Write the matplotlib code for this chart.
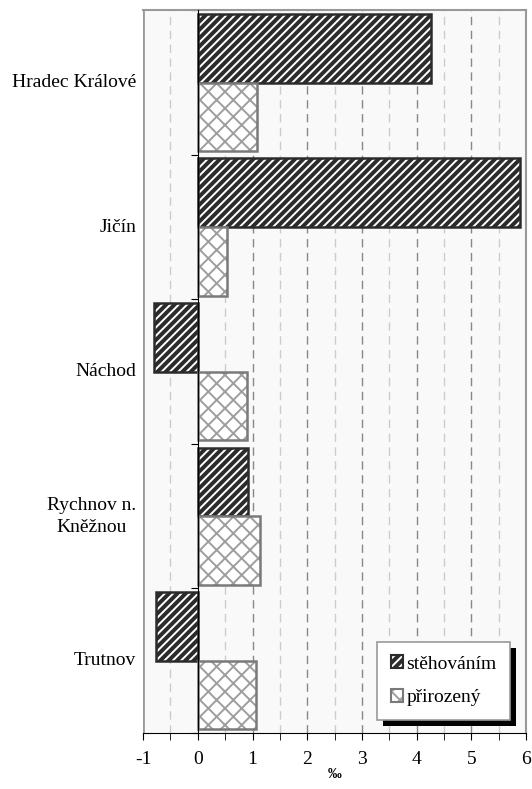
import numpy as np
import matplotlib.pyplot as plt
from matplotlib.patches import Patch, Rectangle
from matplotlib.transforms import blended_transform_factory

plt.rcParams['font.family'] = ['Liberation Serif', 'DejaVu Serif']
plt.rcParams['hatch.linewidth'] = 1.4

okresy = ['Hradec Králové', 'Jičín', 'Náchod', 'Rychnov n.\nKněžnou', 'Trutnov']
stehovanim = [4.27, 5.88, -0.80, 0.92, -0.76]
prirozeny = [1.09, 0.53, 0.90, 1.14, 1.06]
xticks = [-1, 0, 1, 2, 3, 4, 5, 6]

fig = plt.figure(figsize=(5.32, 7.89), dpi=100)
ax = fig.add_axes([0.269, 0.071, 0.720, 0.916])
ax.set_facecolor('#f9f9f9')

n = len(okresy)
y = np.arange(n)
h = 0.475

WHITE = (1.0, 1.0, 1.0, 1.0)
GRAY = (0.62, 0.62, 0.62, 1.0)

b1 = ax.barh(y - h / 2, stehovanim, height=h, color='#2b2b2b', edgecolor='#2b2b2b',
             hatch='////', linewidth=1.8, zorder=3)
b2 = ax.barh(y + h / 2, prirozeny, height=h, color='white', edgecolor='#7a7a7a',
             hatch='xx', linewidth=1.8, zorder=3)
for p in b1:
    p._hatch_color = WHITE
for p in b2:
    p._hatch_color = GRAY

ax.set_ylim(n - 0.5, -0.5)
ax.set_xlim(-1, 6)

# mrizka
for g in np.arange(-0.5, 6, 0.5):
    if g == 0:
        continue
    c = '#888888' if g == int(g) else '#cccccc'
    ax.axvline(g, color=c, lw=1, ls=(0, (6, 4)), zorder=1)

ax.spines['left'].set_position(('data', 0))
ax.spines['left'].set_zorder(4)
ax.spines['left'].set_color('black')
for s in ['top', 'right']:
    ax.spines[s].set_color('#999999')
    ax.spines[s].set_linewidth(1.5)
ax.axvline(-1, color='#999999', lw=2, zorder=2)
ax.spines['bottom'].set_color('black')

ax.set_yticks(np.arange(-0.5, n - 0.4, 1))
ax.set_yticklabels([])
ax.tick_params(axis='y', length=5, direction='out')

ax.set_xticks(xticks)
ax.set_xticks(np.arange(-0.5, 6, 1), minor=True)
ax.set_xticklabels([str(t) for t in xticks], fontsize=14)
ax.tick_params(axis='x', which='both', length=5, direction='out', pad=8)
ax.set_xlabel('‰', fontsize=10, fontweight='bold', labelpad=0)

tr = blended_transform_factory(ax.transAxes, ax.transData)
for i, name in enumerate(okresy):
    ax.text(-0.018, i, name, transform=tr, ha='right', va='center',
            multialignment='center', fontsize=14, linespacing=1.4)

h1 = Patch(facecolor='#2b2b2b', edgecolor='#2b2b2b', hatch='////', lw=1.5)
h1._hatch_color = WHITE
h2 = Patch(facecolor='white', edgecolor='#7a7a7a', hatch='xx', lw=1.5)
h2._hatch_color = GRAY
leg = ax.legend([h1, h2], ['stěhováním', 'přirozený'], loc='lower right',
                bbox_to_anchor=(0.958, 0.018), fontsize=14, fancybox=False,
                edgecolor='#999999', framealpha=1, handlelength=0.65,
                handleheight=0.65, handletextpad=0.15, labelspacing=0.85,
                borderpad=0.7, borderaxespad=0)
leg.get_frame().set_linewidth(1.2)
leg.set_zorder(7)

fig.canvas.draw()
bb = leg.get_window_extent()
sh = Rectangle((bb.x0 + 6, bb.y0 - 6), bb.width, bb.height, transform=None,
               facecolor='black', edgecolor='none', zorder=6, clip_on=False)
ax.add_patch(sh)

fig.savefig('out.png', dpi=100)
